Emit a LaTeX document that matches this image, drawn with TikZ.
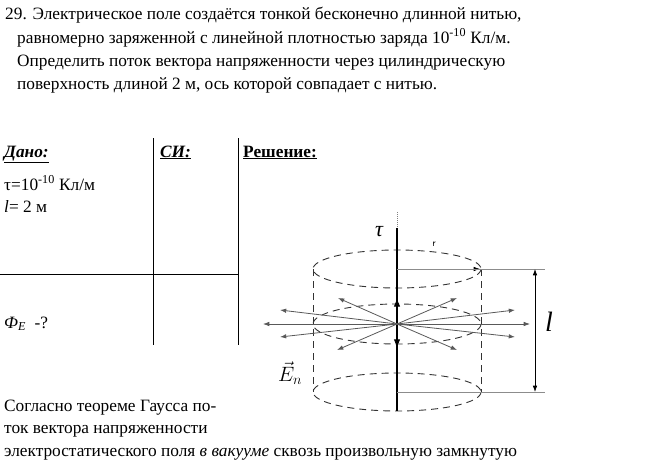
\documentclass[tikz,border=0pt]{standalone}
\usepackage{fontspec}
\setmainfont{Liberation Serif}
\usetikzlibrary{arrows.meta}
\tikzset{>={Latex[width=1.6mm,length=2.2mm]}}

\begin{document}
\begin{tikzpicture}[x=1pt, y=-1pt,
    txt/.style={anchor=base west, inner sep=0pt, font=\fontsize{17.3}{21}\selectfont},
    tline/.style={line width=0.8pt},
    dashcirc/.style={dashed, dash pattern=on 7pt off 5pt, line width=0.9pt, draw=black!80},
    field/.style={->, draw=black!65, line width=0.8pt},
    guide/.style={draw=black!45, line width=0.6pt}]
    \useasboundingbox (0,0) rectangle (650,463);

    %Text
    \node[txt] (q1) at (5,19) {29. Электрическое поле создаётся тонкой бесконечно длинной нитью,};
    \node[txt] (q2) at (17,43) {равномерно заряженной с линейной плотностью заряда 10\textsuperscript{-10} Кл/м.};
    \node[txt] (q3) at (17,66) {Определить поток вектора напряженности через цилиндрическую};
    \node[txt] (q4) at (17,89) {поверхность длиной 2 м, ось которой совпадает с нитью.};
    \node[txt] (dano) at (4,157) {\underline{\textbf{\textit{Дано:}}}};
    \node[txt] (si) at (160,157) {\underline{\textbf{\textit{СИ:}}}};
    \node[txt] (resh) at (243,157) {\underline{\textbf{Решение:}}};
    \node[txt] (tau) at (4,190) {τ=10\textsuperscript{-10} Кл/м};
    \node[txt] (len) at (4,212) {\textit{l}= 2 м};
    \node[txt] (find) at (4,328) {\textit{Ф\textsubscript{E}}\ \ -?};
    \node[txt] (g1) at (4,411) {Согласно теореме Гаусса по-};
    \node[txt] (g2) at (4,433) {ток вектора напряженности};
    \node[txt] (g3) at (4,456) {электростатического поля \textit{в вакууме} сквозь произвольную замкнутую};

    %Table
    \draw[tline] (153,138) -- (153,345);
    \draw[tline] (238,138) -- (238,345);
    \draw[tline] (0,274) -- (238,274);

    %Cylinder
    \coordinate (c) at (397,324);
    \coordinate (top) at (397,269);
    \coordinate (bot) at (397,392);
    \coordinate (rend) at (480,269);
    \draw[dashcirc] (top) ellipse [x radius=84, y radius=19];
    \draw[dashcirc] (c) ellipse [x radius=84, y radius=20];
    \draw[dashcirc] (bot) ellipse [x radius=84, y radius=19];
    \draw[dashcirc] (313,269) -- (313,392);
    \draw[dashcirc] (481,269) -- (481,392);

    %Axis
    \draw[black!50, densely dotted, line width=1pt] (397,212) -- (397,228);
    \draw[line width=1.6pt] (397,228) -- (397,411);
    \draw[-{Latex[width=2.2mm,length=3mm]}, line width=0.8pt] (397,312) -- (397,298);
    \draw[-{Latex[width=2.2mm,length=3mm]}, line width=0.8pt] (397,334) -- (397,348);
    \node[font=\fontsize{22}{22}\selectfont\itshape] (taulab) at (379,232) {τ};

    %Radius and length
    \draw[->, line width=0.8pt] (top) -- (rend);
    \node[font=\sffamily\fontsize{10}{10}\selectfont] (rlab) at (434,244) {r};
    \draw[guide] (top) -- (545,269);
    \draw[guide] (bot) -- (545,392);
    \coordinate (la) at (535,269);
    \coordinate (lb) at (535,392);
    \draw[<->, line width=0.8pt] (la) -- (lb);
    \node[font=\fontsize{28}{28}\selectfont\itshape] (llab) at (549,322) {l};

    %Field lines
    \foreach \ex/\ey in {263/324, 530/324, 280/310, 515/310, 280/337, 515/337, 338/298, 457/298, 337/350, 457/350}
        \draw[field] (c) -- (\ex,\ey);
    \node[font=\fontsize{20}{20}\selectfont] (En) at (290,373) {$\vec{E}_n$};
\end{tikzpicture}
\end{document}
